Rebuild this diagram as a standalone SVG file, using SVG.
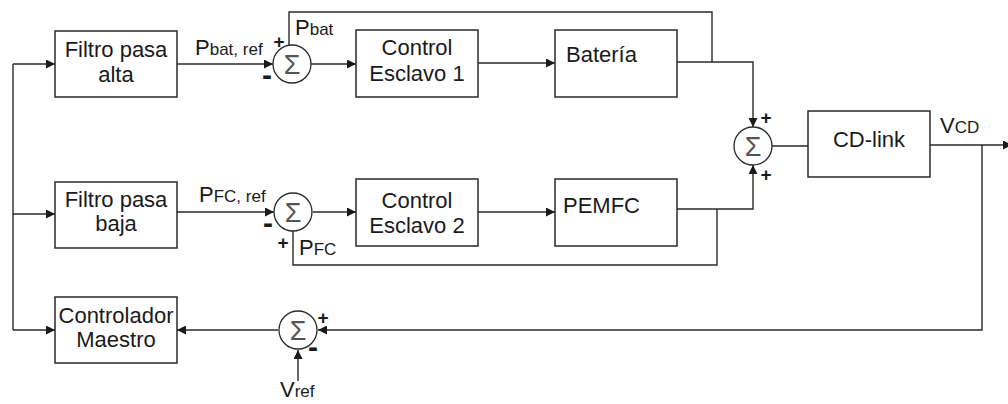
<svg xmlns="http://www.w3.org/2000/svg" width="1008" height="404" viewBox="0 0 1008 404">
  <style>
    .box { fill: #ffffff; stroke: #2a2a2a; stroke-width: 1.5; }
    .sum { fill: #ffffff; stroke: #2a2a2a; stroke-width: 1.3; }
    .wire { fill: none; stroke: #2a2a2a; stroke-width: 1.4; }
    .lbl { font-family: "Liberation Sans", Arial, sans-serif; font-size: 22px; fill: #1a1a1a; }
    .mid { text-anchor: middle; }
    .sub { font-size: 17px; }
    .sig { font-family: "Liberation Sans", Arial, sans-serif; font-size: 19px; font-weight: bold; fill: #1a1a1a; text-anchor: middle; }
    .neg { font-size: 30px; }
    .sigma { font-family: "Liberation Sans", Arial, sans-serif; font-size: 27px; fill: #555; text-anchor: middle; }
  </style>
  <defs>
    <marker id="arrow" viewBox="0 0 10 10" refX="10" refY="5" markerWidth="9" markerHeight="9" markerUnits="userSpaceOnUse" orient="auto">
      <path d="M0,0 L10,5 L0,10 z" fill="#1a1a1a"/>
    </marker>
  </defs>

  <rect width="1008" height="404" fill="#ffffff"/>

  <!-- signal lines -->
  <g id="connectors">
    <!-- common input bus on the left -->
    <path class="wire" d="M13,64 V330"/>
    <path class="wire" d="M13,64 H55" marker-end="url(#arrow)"/>
    <path class="wire" d="M13,214 H55" marker-end="url(#arrow)"/>
    <path class="wire" d="M13,330 H55" marker-end="url(#arrow)"/>

    <!-- battery branch -->
    <path class="wire" d="M177,64 H273" marker-end="url(#arrow)"/>
    <path class="wire" d="M311,64 H356" marker-end="url(#arrow)"/>
    <path class="wire" d="M478,63 H555" marker-end="url(#arrow)"/>
    <path class="wire" d="M677,62 H753 V127" marker-end="url(#arrow)"/>
    <path class="wire" d="M712,62 V12 H289 V46"/>

    <!-- fuel cell branch -->
    <path class="wire" d="M177,212 H274" marker-end="url(#arrow)"/>
    <path class="wire" d="M313,212 H356" marker-end="url(#arrow)"/>
    <path class="wire" d="M478,212 H555" marker-end="url(#arrow)"/>
    <path class="wire" d="M677,209 H753 V165" marker-end="url(#arrow)"/>
    <path class="wire" d="M717,209 V265 H293 V231"/>

    <!-- DC link and voltage loop -->
    <path class="wire" d="M772,146 H808"/>
    <path class="wire" d="M930,145 H1012" marker-end="url(#arrow)"/>
    <path class="wire" d="M982,145 V330 H318" marker-end="url(#arrow)"/>
    <path class="wire" d="M278,330 H177" marker-end="url(#arrow)"/>
    <path class="wire" d="M298,381 V350" marker-end="url(#arrow)"/>
  </g>

  <!-- blocks -->
  <g id="filtro-alta">
    <rect class="box" x="55" y="31" width="122" height="66"/>
    <text class="lbl mid" x="116" y="57">Filtro pasa</text>
    <text class="lbl mid" x="116" y="82">alta</text>
  </g>
  <g id="filtro-baja">
    <rect class="box" x="55" y="182" width="122" height="66"/>
    <text class="lbl mid" x="116" y="207">Filtro pasa</text>
    <text class="lbl mid" x="116" y="231">baja</text>
  </g>
  <g id="controlador-maestro">
    <rect class="box" x="55" y="297" width="122" height="66"/>
    <text class="lbl mid" x="116" y="323">Controlador</text>
    <text class="lbl mid" x="116" y="347">Maestro</text>
  </g>
  <g id="control-esclavo-1">
    <rect class="box" x="356" y="30" width="122" height="67"/>
    <text class="lbl mid" x="417" y="55">Control</text>
    <text class="lbl mid" x="417" y="81">Esclavo 1</text>
  </g>
  <g id="control-esclavo-2">
    <rect class="box" x="356" y="179" width="122" height="67"/>
    <text class="lbl mid" x="417" y="208">Control</text>
    <text class="lbl mid" x="417" y="233">Esclavo 2</text>
  </g>
  <g id="bateria">
    <rect class="box" x="555" y="30" width="122" height="67"/>
    <text class="lbl" x="566" y="62">Batería</text>
  </g>
  <g id="pemfc">
    <rect class="box" x="555" y="179" width="122" height="67"/>
    <text class="lbl" x="563" y="213">PEMFC</text>
  </g>
  <g id="cd-link">
    <rect class="box" x="808" y="111" width="122" height="66"/>
    <text class="lbl mid" x="869" y="147">CD-link</text>
  </g>

  <!-- summing junctions -->
  <g id="sum-bat">
    <circle class="sum" cx="292" cy="64" r="19"/>
    <text class="sigma" x="292" y="74">Σ</text>
    <text class="sig" x="279" y="48">+</text>
    <text class="sig neg" x="267" y="85">-</text>
  </g>
  <g id="sum-fc">
    <circle class="sum" cx="293" cy="212" r="19"/>
    <text class="sigma" x="293" y="222">Σ</text>
    <text class="sig neg" x="268" y="233">-</text>
    <text class="sig" x="283" y="249">+</text>
  </g>
  <g id="sum-bus">
    <circle class="sum" cx="753" cy="146" r="19"/>
    <text class="sigma" x="753" y="156">Σ</text>
    <text class="sig" x="766" y="124">+</text>
    <text class="sig" x="766" y="181">+</text>
  </g>
  <g id="sum-v">
    <circle class="sum" cx="298" cy="330" r="19"/>
    <text class="sigma" x="298" y="340">Σ</text>
    <text class="sig" x="323" y="324">+</text>
    <text class="sig neg" x="313" y="357">-</text>
  </g>

  <!-- signal names -->
  <g id="labels">
    <text class="lbl" x="195" y="55">P<tspan class="sub">bat, ref</tspan></text>
    <text class="lbl" x="295" y="35">P<tspan class="sub">bat</tspan></text>
    <text class="lbl" x="199" y="202">P<tspan class="sub">FC, ref</tspan></text>
    <text class="lbl" x="299" y="255">P<tspan class="sub">FC</tspan></text>
    <text class="lbl" x="940" y="133">V<tspan class="sub">CD</tspan></text>
    <text class="lbl" x="280" y="397">V<tspan class="sub">ref</tspan></text>
  </g>
</svg>
